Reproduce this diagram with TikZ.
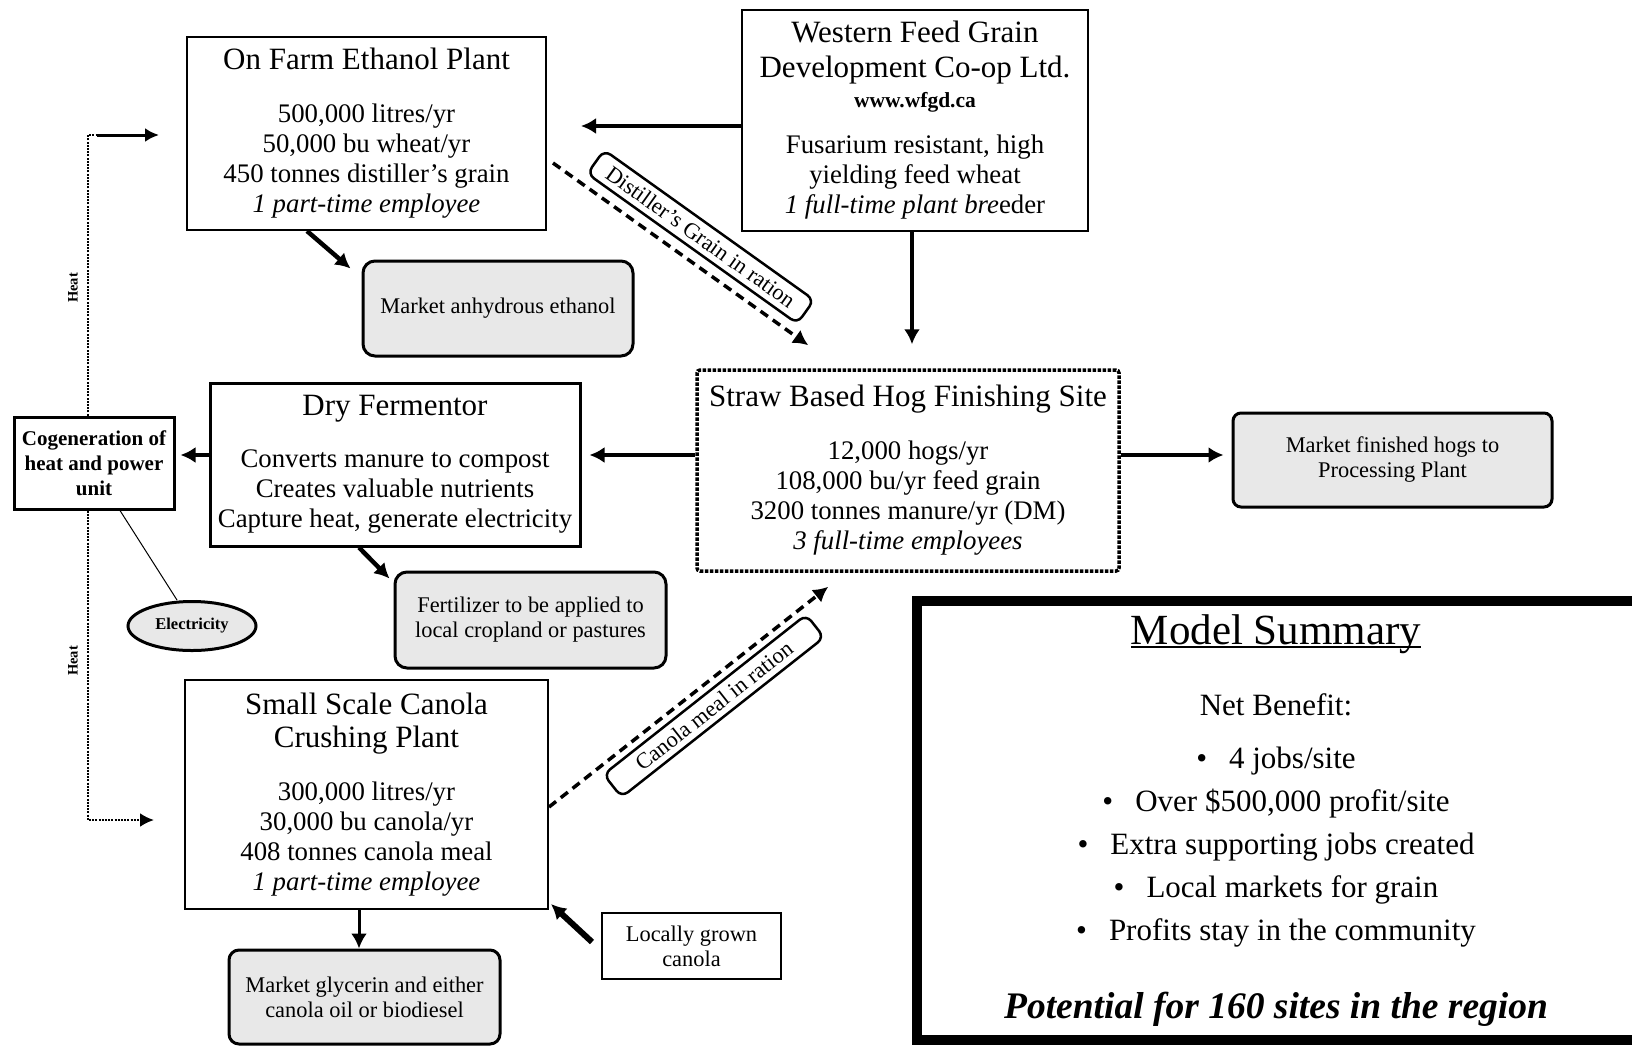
\documentclass[tikz,border=0pt]{standalone}
\usepackage{fontspec}
\setmainfont{Liberation Serif}
\usetikzlibrary{arrows.meta,calc,shapes.geometric}

\definecolor{boxgray}{HTML}{E8E8E8}
\newcommand{\titlefnt}{\fontsize{31}{35}\selectfont}
\newcommand{\datafnt}{\fontsize{26.8}{30}\selectfont}
\newcommand{\smallfnt}{\fontsize{22.4}{25}\selectfont}
\newcommand{\ulinetxt}[1]{\setbox0\hbox{#1}\rlap{\rule[-4pt]{\wd0}{2.5pt}}\box0}

\tikzset{
    plant/.style={draw, line width=2pt, align=center, font=\datafnt, inner sep=0pt},
    market/.style={draw, line width=3pt, fill=boxgray, rounded corners=12pt,
        align=center, font=\smallfnt, inner sep=0pt},
    flow/.style={line width=4.5pt, -{Latex[length=15pt,width=16pt]}},
    ration/.style={line width=3.5pt, dash pattern=on 9pt off 6pt,
        -{Latex[length=15pt,width=16pt]}},
    rationlbl/.style={draw, solid, fill=white, line width=2.5pt, rounded corners=8pt,
        font=\smallfnt, minimum width=258pt, minimum height=29pt, inner sep=2pt},
    heatline/.style={line width=2.5pt, dash pattern=on 2pt off 1.2pt},
    heatlbl/.style={font=\fontsize{14.5}{16}\selectfont\bfseries, rotate=90, inner sep=0pt}
}

\begin{document}
\begin{tikzpicture}[x=1pt, y=-1pt]
    \useasboundingbox (0,0) rectangle (1632,1045);
    \clip (0,0) rectangle (1632,1045);

    \node[plant, minimum width=359pt, minimum height=193pt] (ethanol) at (366.5,133.5)
        {{\titlefnt On Farm Ethanol Plant}\\[23pt]
         500,000 litres/yr\\ 50,000 bu wheat/yr\\ 450 tonnes distiller's grain\\
         \textit{1 part-time employee}};
    \node[plant, line width=2.7pt, minimum width=346pt, minimum height=221pt] (western) at (915,120.5)
        {{\titlefnt Western Feed Grain}\\[5pt]
         {\titlefnt Development Co-op Ltd.}\\
         {\fontsize{21.5}{22}\selectfont\bfseries www.wfgd.ca}\\[16pt]
         Fusarium resistant, high\\ yielding feed wheat\\
         \textit{1 full-time plant bre}eder};
    \node[market, minimum width=270pt, minimum height=95pt] (anhyd) at (498,308.5)
        {Market anhydrous ethanol};
    \node[plant, line width=3pt, minimum width=370pt, minimum height=163pt] (dryferm) at (395,464.5)
        {{\titlefnt Dry Fermentor}\\[22pt]
         Converts manure to compost\\ Creates valuable nutrients\\
         Capture heat, generate electricity};
    \node[plant, line width=3pt, font=\fontsize{21}{25}\selectfont\bfseries,
        minimum width=160pt, minimum height=92pt] (cogen) at (94,463)
        {Cogeneration of\\ heat and power\\ unit};
    \node[plant, line width=3.5pt, dash pattern=on 3.5pt off 1.5pt, rounded corners=3pt,
        minimum width=422pt, minimum height=201pt] (hog) at (908,470.5)
        {{\titlefnt Straw Based Hog Finishing Site}\\[23pt]
         12,000 hogs/yr\\ 108,000 bu/yr feed grain\\ 3200 tonnes manure/yr (DM)\\
         \textit{3 full-time employees}};
    \node[market, rounded corners=8pt, minimum width=319pt, minimum height=94pt] (mkthogs) at (1392.5,460)
        {Market finished hogs to\\ Processing Plant};
    \node[market, minimum width=271pt, minimum height=96pt] (fert) at (530.5,620)
        {Fertilizer to be applied to\\ local cropland or pastures};
    \node[ellipse, draw, line width=3pt, fill=boxgray, font=\fontsize{16.5}{20}\selectfont\bfseries,
        minimum width=128pt, minimum height=49pt, inner sep=0pt] (elec) at (192,626) {Electricity};
    \node[plant, minimum width=363pt, minimum height=229pt] (canola) at (366.5,794.5)
        {{\titlefnt Small Scale Canola}\\[3pt]
         {\titlefnt Crushing Plant}\\[23pt]
         300,000 litres/yr\\ 30,000 bu canola/yr\\ 408 tonnes canola meal\\
         \textit{1 part-time employee}};
    \node[market, rounded corners=10pt, minimum width=271pt, minimum height=94pt] (glyc) at (364.5,997)
        {Market glycerin and either\\ canola oil or biodiesel};
    \node[plant, font=\smallfnt, minimum width=179pt, minimum height=66pt] (local) at (691.5,946)
        {Locally grown\\ canola};
    \node[align=center, font=\fontsize{31}{43}\selectfont, inner sep=0pt,
        minimum width=718pt, minimum height=439pt] (summ) at (1276,820.5)
        {{\fontsize{43}{43}\selectfont\ulinetxt{Model Summary}}\\[28pt]
         Net Benefit:\\[10pt]
         \textbullet\hspace{22pt}4 jobs/site\\
         \textbullet\hspace{22pt}Over \$500,000 profit/site\\
         \textbullet\hspace{22pt}Extra supporting jobs created\\
         \textbullet\hspace{22pt}Local markets for grain\\
         \textbullet\hspace{22pt}Profits stay in the community\\[35pt]
         {\fontsize{37.5}{43}\selectfont\bfseries\itshape Potential for 160 sites in the region}};
    \draw[line width=10pt] (summ.south west) rectangle ([xshift=30pt]summ.north east);

    % heat and power loop
    \coordinate (heattop) at (88,135);
    \coordinate (heatbot) at (88,820);
    \draw[heatline] ([xshift=-6pt]cogen.north) -- (heattop) -- ++(9,0);
    \draw[line width=3pt, -{Latex[length=14pt,width=14pt]}, shorten <=9pt, shorten >=27pt]
        (heattop) -- (heattop -| ethanol.west);
    \draw[heatline, -{Latex[length=14pt,width=14pt]}, shorten >=30pt]
        ([xshift=-6pt]cogen.south) -- (heatbot) -- (heatbot -| canola.west);
    \node[heatlbl] (heatA) at (73,288) {Heat};
    \node[heatlbl] (heatB) at (73,661) {Heat};
    \draw[line width=1pt] ([xshift=26pt]cogen.south) -- ([xshift=-15pt]elec.north);

    \draw[flow, shorten >=34pt] ([yshift=-5.5pt]western.west) -- ([yshift=-5.5pt]western.west -| ethanol.east);
    \draw[flow, shorten >=24pt] ([xshift=-3pt]western.south) -- ([xshift=-3pt]western.south |- hog.north);
    \draw[flow] ([xshift=-59.5pt]ethanol.south) -- ($(anhyd.north west)+(-11,9)$);
    \draw[flow, shorten >=8pt] ([yshift=15.5pt]hog.west) -- ([yshift=15.5pt]hog.west -| dryferm.east);
    \draw[flow, shorten >=5pt] ([yshift=9.5pt]dryferm.west) -- ([yshift=9.5pt]dryferm.west -| cogen.east);
    \draw[flow, shorten >=8pt] ([yshift=15.5pt]hog.east) -- ([yshift=15.5pt]hog.east -| mkthogs.west);
    \draw[flow] ([xshift=-36pt]dryferm.south) -- ($(fert.north west)+(-4,8)$);
    \draw[flow, line width=3pt] ([xshift=-7.5pt]canola.south) -- ([xshift=-7.5pt]canola.south |- glyc.north);
    \draw[flow, line width=6pt] ($(local.west)+(-9,-4)$) -- ($(canola.south east)+(2,-6)$);

    \draw[ration] ([xshift=6pt,yshift=-29.5pt]ethanol.east) -- ($(hog.north west)+(113,-23)$)
        node[rationlbl, sloped, above=10pt, pos=0.52] (dglbl) {Distiller's Grain in ration};
    \draw[ration] ([yshift=-12.5pt]canola.east) -- ($(hog.south west)+(133,14)$)
        node[rationlbl, sloped, below=7pt, pos=0.54] (cmlbl) {Canola meal in ration};
\end{tikzpicture}
\end{document}
